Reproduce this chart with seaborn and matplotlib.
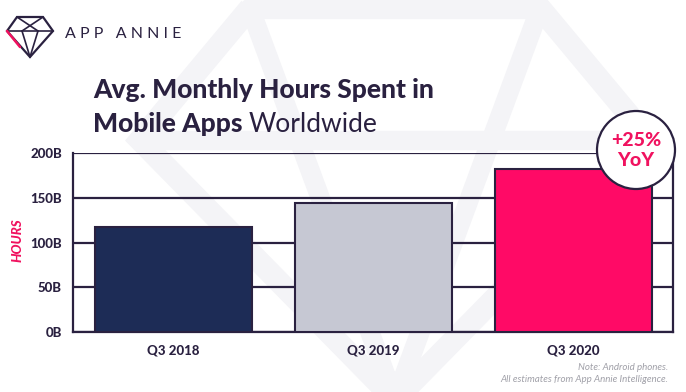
import numpy as np
import pandas as pd
import seaborn as sns
import matplotlib.pyplot as plt
from matplotlib.patches import Ellipse, Polygon
from matplotlib.lines import Line2D

# 数据
quarters = ['Q3 2018', 'Q3 2019', 'Q3 2020']
hours_b = [117, 144, 182]
bar_colors = ['#1d2c56', '#c6c8d3', '#ff0a66']
y_ticks = [0, 50, 100, 150, 200]
y_labels = ['0B', '50B', '100B', '150B', '200B']

dark = '#2a2140'
pink = '#f0125f'

sns.set_theme(style='white')
plt.rcParams['font.family'] = ['Lato', 'DejaVu Sans']

W, H = 686, 392
fig = plt.figure(figsize=(W / 100, H / 100), dpi=100)
fig.patch.set_facecolor('white')


def px(x, y):
    # 像素坐标 -> figure 坐标
    return (x / W, 1 - y / H)


# 背景水印
wm = '#f4f4f7'
outer = [px(250, 8), px(540, 8), px(650, 140), px(395, 400), px(140, 140)]
fig.patches.append(Polygon(outer, closed=True, fill=False, lw=16, ec=wm,
                           transform=fig.transFigure, zorder=-2))
for a, b in [((250, 8), (395, 400)), ((540, 8), (395, 400)),
             ((140, 140), (650, 140))]:
    fig.lines.append(Line2D([a[0] / W, b[0] / W], [1 - a[1] / H, 1 - b[1] / H],
                            lw=14, color=wm, transform=fig.transFigure, zorder=-2))

# 柱状图
ax = fig.add_axes([73 / W, 1 - 332 / H, 600 / W, 179 / H])
ax.set_zorder(1)
ax.set_facecolor('none')
df = pd.DataFrame({'quarter': quarters, 'hours': hours_b})
sns.barplot(data=df, x='quarter', y='hours', hue='quarter', palette=bar_colors,
            legend=False, width=0.785, edgecolor=dark, linewidth=1.5,
            saturation=1, ax=ax, zorder=3)
ax.set_xlim(-0.5, 2.5)
ax.set_ylim(0, 200)
ax.set_yticks(y_ticks)
ax.set_yticklabels(y_labels, fontsize=9.5, fontweight='black', color=dark)
ax.tick_params(axis='both', length=0)
ax.tick_params(axis='y', pad=8)
ax.tick_params(axis='x', pad=9)
for lbl in ax.get_xticklabels():
    lbl.set_fontsize(9.5)
    lbl.set_fontweight('black')
    lbl.set_color(dark)
ax.yaxis.grid(True, color=dark, lw=1.6, zorder=1)
ax.set_axisbelow(True)
for side in ['left', 'right', 'bottom']:
    ax.spines[side].set_color(dark)
    ax.spines[side].set_linewidth(1.6)
ax.spines['top'].set_visible(False)
ax.set_xlabel('')
ax.set_ylabel('')

fig.text(*px(18, 240), 'HOURS', rotation=90, color=pink, fontsize=9.5,
         fontweight='black', fontstyle='italic', ha='center', va='center')

# 标题
fig.text(*px(93, 90), 'Avg. Monthly Hours Spent in', fontsize=19,
         fontweight='black', color=dark, va='center', ha='left')
t2 = fig.text(*px(93, 124), 'Mobile Apps', fontsize=19, fontweight='black',
              color=dark, va='center', ha='left')
fig.canvas.draw()
bb = t2.get_window_extent()
fig.text(bb.x1 / W + 6 / W, 1 - 124 / H, 'Worldwide', fontsize=19, color=dark,
         va='center', ha='left')

# Logo
icon = [px(17, 17), px(43, 17), px(53, 31), px(30, 57), px(7, 31)]
fig.patches.append(Polygon(icon, closed=True, fill=False, lw=1.6, ec=dark,
                           transform=fig.transFigure, zorder=5))
fig.lines.append(Line2D([7 / W, 20 / W], [1 - 31 / H, 1 - 47 / H], lw=1.8,
                        color=pink, transform=fig.transFigure, zorder=6))
for a, b in [((17, 17), (38, 31)), ((43, 17), (22, 31)), ((7, 31), (53, 31)),
             ((22, 31), (30, 57)), ((38, 31), (30, 57))]:
    fig.lines.append(Line2D([a[0] / W, b[0] / W], [1 - a[1] / H, 1 - b[1] / H],
                            lw=1.2, color=dark, transform=fig.transFigure, zorder=5))
fig.text(*px(65, 34), 'A P P   A N N I E', fontsize=11.5, color=dark,
         va='center', ha='left')

# +25% YoY
fig.patches.append(Ellipse(px(636, 150), 78 / W, 78 / H, fc='white', ec=dark,
                           lw=1.6, transform=fig.transFigure, zorder=10))
fig.text(*px(636, 140), '+25%', fontsize=14, fontweight='black', color=pink,
         ha='center', va='center', zorder=11)
fig.text(*px(636, 161), 'YoY', fontsize=14, fontweight='black', color=pink,
         ha='center', va='center', zorder=11)

# 注释
fig.text(*px(668, 368), 'Note: Android phones.', fontsize=7, color='#a0a0a8',
         fontstyle='italic', ha='right', va='center')
fig.text(*px(668, 380), 'All estimates from App Annie Intelligence.',
         fontsize=7, color='#a0a0a8', fontstyle='italic', ha='right',
         va='center')

fig.savefig('out.png', dpi=100)
